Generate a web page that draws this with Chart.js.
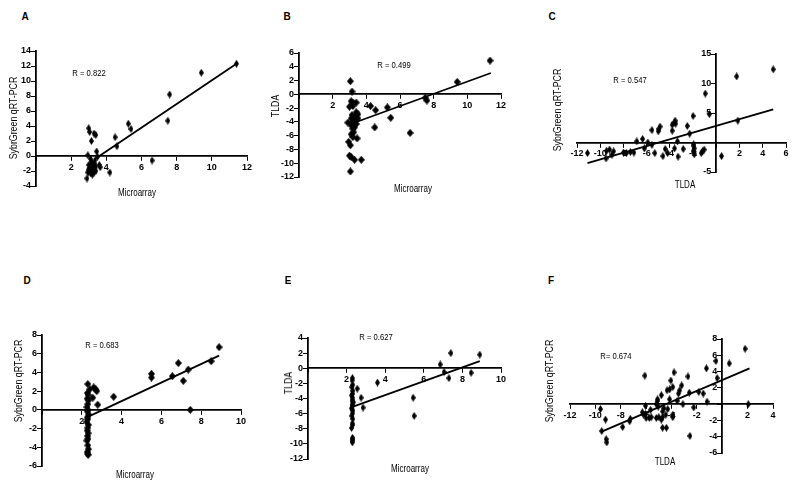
<!DOCTYPE html>
<html><head><meta charset="utf-8">
<script src="https://cdn.jsdelivr.net/npm/chart.js@4"></script>
<style>
body{margin:0;background:#fff;}
#wrap{position:relative;width:800px;height:489px;overflow:hidden;background:#fff;font-family:"Liberation Sans",Arial,sans-serif;color:#000}
canvas{position:absolute}
.t{position:absolute;white-space:nowrap;line-height:1;color:#000}
</style></head><body><div id="wrap"></div>
<script>
// ---------- DATA ----------
// Panel A: Microarray vs SybrGreen qRT-PCR
const aX = [11.4,9.4,7.6,7.5,5.25,5.4,4.5,4.6,6.6,4.2,3.65,3.0,3.05,3.15,3.3,3.4,3.45,2.95,3.5,2.9,3.0,3.1,3.2,3.0,3.3,3.4,3.1,3.2,3.3,3.0,3.15,3.25,3.35,3.05,2.95,3.2,3.4,3.6,3.1];
const aY = [12.3,11.1,8.2,4.7,4.3,3.6,2.5,1.3,-0.6,-2.2,-1.5,3.7,3.2,2.0,3.0,2.8,0.6,0.1,-0.1,-3.0,-1.8,-2.0,-1.5,-1.2,-1.0,-1.4,-2.3,-2.5,-2.2,-2.1,-0.8,-1.8,-0.6,-1.6,-2.2,-1.2,-2.0,-1.2,-0.4];
const aFitX = [3.35, 11.4];
const aFitY = [-0.4, 12.3];
// Panel B: Microarray vs TLDA
const bX = [11.35,9.4,7.5,7.6,6.6,5.45,5.25,4.55,4.5,4.25,3.7,3.05,3.15,3.05,3.0,3.1,3.3,2.95,3.05,2.9,3.45,3.1,3.2,3.4,3.0,3.2,3.1,3.3,3.4,3.5,3.2,3.3,3.1,3.2,3.25,3.1,3.2,3.4,3.5,3.3,3.15];
const bY = [4.9,1.8,-0.5,-0.9,-5.6,-3.4,-1.9,-2.3,-4.8,-1.7,-9.5,1.9,0.4,-11.2,-8.9,-9.1,-9.5,-6.9,-7.4,-4.1,-6.4,-1.0,-1.2,-1.2,-1.8,-1.7,-3.5,-3.3,-2.6,-2.9,-4.0,-3.8,-4.5,-5.0,-5.5,-5.8,-6.2,-4.3,-3.5,-4.8,-3.0];
const bFitX = [3.2, 11.4];
const bFitY = [-4.2, 3.1];
// Panel C: TLDA vs SybrGreen qRT-PCR
const cX = [4.9,1.75,1.85,-0.95,-0.6,0.45,-2.0,-2.3,-2.5,-1.95,-1.95,-1.9,-2.0,-1.9,-1.2,-1.05,-1.3,-2.85,-3.35,-3.3,-3.5,-3.65,-3.8,-3.8,-3.55,-3.6,-4.2,-4.4,-4.6,-4.85,-4.95,-5.0,-5.55,-5.3,-5.55,-5.9,-6.35,-6.2,-6.85,-7.1,-7.4,-7.75,-8.0,-8.85,-9.0,-9.2,-9.45,-9.5,-11.1];
const cY = [12.4,11.2,3.7,8.3,4.8,-2.3,4.5,1.5,2.8,-0.3,-0.6,-1.0,-1.5,-2.0,-1.5,-1.2,-1.8,-1.1,0.2,-2.4,3.2,3.3,3.0,2.0,3.7,-1.0,-1.8,-1.1,-2.3,2.7,2.3,1.9,2.1,-1.8,-0.4,0.0,0.6,-1.0,0.2,-1.7,-1.6,-1.8,-1.7,-1.5,-2.1,-1.2,-1.4,-2.7,-1.8];
const cFitX = [-11.1, 4.9];
const cFitY = [-3.5, 5.6];
// Panel D: Microarray vs SybrGreen qRT-PCR
const dX = [8.9,8.5,7.35,6.85,7.1,6.55,7.45,5.5,5.5,3.6,2.8,2.6,2.7,2.75,2.55,2.4,2.3,2.28,2.32,2.27,2.33,2.3,2.26,2.31,2.29,2.34,2.28,2.3,2.25,2.33,2.3,2.27,2.32,2.29,2.31,2.26,2.3,2.33,2.28,2.3,2.32];
const dY = [6.7,5.2,4.3,5.0,3.1,3.6,0.0,3.85,3.45,1.4,0.55,2.4,2.2,2.0,1.3,2.2,2.75,1.8,1.6,1.2,1.0,0.6,0.3,0.0,-0.2,-0.5,-0.8,-1.0,-1.3,-1.6,-1.9,-2.2,-2.5,-2.8,-3.1,-3.3,-3.8,-4.2,-4.5,-4.7,-4.8];
const dFitX = [2.3, 8.9];
const dFitY = [-0.75, 5.8];
// Panel E: Microarray vs TLDA
const eX = [8.9,8.45,7.4,7.3,7.05,6.85,5.45,5.5,3.6,2.55,2.75,2.85,2.3,2.28,2.32,2.27,2.33,2.3,2.26,2.31,2.29,2.34,2.28,2.3,2.25,2.33,2.3,2.27,2.32,2.29,2.31,2.26,2.3,2.33,2.28,2.3,2.32];
const eY = [1.8,-0.6,2.0,-1.3,-0.5,0.5,-3.9,-6.3,-1.9,-2.7,-3.9,-5.2,-1.3,-1.6,-2.2,-2.5,-3.0,-3.4,-3.6,-3.9,-4.2,-4.5,-4.8,-5.0,-5.3,-5.6,-6.0,-6.3,-6.7,-7.3,-7.5,-7.9,-9.2,-9.4,-9.6,-9.8,-4.4];
const eFitX = [2.3, 8.9];
const eFitY = [-5.1, 0.95];
// Panel F: TLDA vs SybrGreen qRT-PCR
const fX = [1.8,0.55,2.05,-0.5,-0.4,-1.25,-1.2,-1.5,-1.85,-2.25,-2.55,-2.7,-2.6,-3.1,-3.2,-3.35,-3.45,-3.55,-3.8,-3.9,-4.05,-4.15,-4.35,-4.15,-4.3,-3.9,-3.9,-4.45,-4.6,-4.7,-4.8,-4.7,-4.4,-4.7,-5.0,-5.05,-4.8,-5.1,-5.2,-5.1,-5.2,-5.65,-5.75,-6.0,-6.05,-6.1,-6.3,-6.05,-5.6,-6.2,-7.25,-7.3,-7.85,-9.2,-9.6,-9.5,-9.15,-9.1];
const fY = [6.8,5.0,0.0,5.3,3.2,4.4,0.3,1.3,1.5,-0.4,-3.9,3.4,1.4,0.0,2.3,1.7,1.3,0.4,3.9,2.1,2.9,1.8,1.7,0.6,-0.6,-1.3,-1.6,-1.3,-0.5,-0.9,-1.9,-1.6,-2.9,-2.9,-1.6,-0.3,1.1,0.4,0.0,0.6,-1.7,-0.7,-1.7,-1.7,-0.2,3.5,-1.0,-1.2,-1.6,-1.3,-1.8,-2.1,-2.8,-1.9,-0.6,-3.3,-4.3,-4.7];
const fFitX = [-9.55, 2.15];
const fFitY = [-3.4, 4.4];

const letters = ['A','B','C','D','E','F'];
const rLabels = ['R = 0.822','R = 0.499','R = 0.547','R = 0.683','R = 0.627','R= 0.674'];
const xTitles = ['Microarray','Microarray','TLDA','Microarray','Microarray','TLDA'];
const yTitles = ['SybrGreen qRT-PCR','TLDA','SybrGreen qRT-PCR','SybrGreen qRT-PCR','TLDA','SybrGreen qRT-PCR'];

// ---------- custom y scale: labels kept clear of an axis drawn at x = 0 ----------
class YCrossScale extends Chart.LinearScale {
  _computeLabelItems(chartArea) {
    const items = super._computeLabelItems(chartArea);
    const shift = (this.options.ticks.padding || 0) + (this.options.grid.tickLength || 0);
    items.forEach(it => {
      if (it.options && Array.isArray(it.options.translation)) it.options.translation[0] -= shift;
    });
    return items;
  }
}
YCrossScale.id = 'ycross';
YCrossScale.defaults = Chart.LinearScale.defaults;
Chart.register(YCrossScale);

// ---------- LAYOUT ----------
const wrap = document.getElementById('wrap');
const FONT = '"Liberation Sans", Arial, sans-serif';

function diamond(w, h) {
  const c = document.createElement('canvas');
  c.width = w; c.height = h;
  const g = c.getContext('2d');
  g.fillStyle = '#000';
  g.beginPath();
  g.moveTo(w/2, 0); g.lineTo(w, h/2); g.lineTo(w/2, h); g.lineTo(0, h/2); g.closePath();
  g.fill();
  return c;
}

function addText(txt, cx, cy, size, bold, sx, rot) {
  const d = document.createElement('div');
  d.className = 't';
  d.textContent = txt;
  d.style.fontSize = size + 'px';
  d.style.fontWeight = bold ? 'bold' : 'normal';
  d.style.left = cx + 'px';
  d.style.top = cy + 'px';
  d.style.transform = 'translate(-50%,-50%)' + (rot ? ' rotate(-90deg)' : '') + ' scaleX(' + sx + ')';
  wrap.appendChild(d);
}

function zip(xs, ys) { return xs.map((x, i) => ({x: x, y: ys[i]})); }

function panel(p) {
  const P = 24;
  const L = Math.round(p.left), T = Math.round(p.top);
  const W = Math.round(p.right - p.left), H = Math.round(p.bottom - p.top);
  const cv = document.createElement('canvas');
  cv.width = W + 2*P; cv.height = H + 2*P;
  cv.style.left = (L - P) + 'px'; cv.style.top = (T - P) + 'px';
  cv.style.width = (W + 2*P) + 'px'; cv.style.height = (H + 2*P) + 'px';
  wrap.appendChild(cv);
  const tickFont = {family: FONT, size: 9, weight: 'bold'};
  new Chart(cv.getContext('2d'), {
    type: 'scatter',
    data: {datasets: [
      {data: zip(p.xs, p.ys), pointStyle: diamond(p.dw, p.dh), pointRadius: 4, showLine: false, borderColor: '#000', backgroundColor: '#000'},
      {data: zip(p.fx, p.fy), showLine: true, pointRadius: 0, borderColor: '#000', borderWidth: 1.8, fill: false}
    ]},
    options: {
      responsive: false, animation: false, devicePixelRatio: 1,
      layout: {padding: P},
      plugins: {legend: {display: false}, tooltip: {enabled: false}},
      scales: {
        x: {type: 'linear', min: p.xmin, max: p.xmax, position: {y: 0},
            ticks: {stepSize: p.xstep, font: tickFont, color: '#000', padding: 2, maxRotation: 0, autoSkip: false,
                    callback: v => v === 0 ? '' : String(v)},
            grid: {drawOnChartArea: false, drawTicks: true, tickLength: 4, color: '#000', lineWidth: 1},
            border: {display: true, color: '#000', width: 1.8}},
        y: {type: 'ycross', min: p.ymin, max: p.ymax, position: {x: 0},
            ticks: {stepSize: p.ystep, font: tickFont, color: '#000', padding: 1, autoSkip: false,
                    callback: v => (v === 0 && p.hideY0) ? '' : String(v)},
            grid: {drawOnChartArea: false, drawTicks: true, tickLength: 4, color: '#000', lineWidth: 1},
            border: {display: true, color: '#000', width: 1.8}}
      }
    }
  });
}

const panels = [
  {left: 36, right: 247, top: 51, bottom: 186, xmin: 0, xmax: 12, ymin: -4, ymax: 14, xstep: 2, ystep: 2, hideY0: false, xs: aX, ys: aY, fx: aFitX, fy: aFitY, dw: 5, dh: 8,
   L: [25, 17], R: [89, 73], XT: [137, 193], YT: [14, 118]},
  {left: 299, right: 501, top: 53, bottom: 177, xmin: 0, xmax: 12, ymin: -12, ymax: 6, xstep: 2, ystep: 2, hideY0: false, xs: bX, ys: bY, fx: bFitX, fy: bFitY, dw: 7, dh: 8,
   L: [287, 17], R: [394, 65], XT: [413, 189], YT: [276, 106]},
  {left: 577, right: 786, top: 54, bottom: 172, xmin: -12, xmax: 6, ymin: -5, ymax: 15, xstep: 2, ystep: 5, hideY0: true, xs: cX, ys: cY, fx: cFitX, fy: cFitY, dw: 5, dh: 8,
   L: [552, 17], R: [630, 80], XT: [685, 185], YT: [558, 110]},
  {left: 42, right: 241, top: 335, bottom: 466, xmin: 0, xmax: 10, ymin: -6, ymax: 8, xstep: 2, ystep: 2, hideY0: false, xs: dX, ys: dY, fx: dFitX, fy: dFitY, dw: 7, dh: 8,
   L: [27, 281], R: [102, 345], XT: [135, 475], YT: [19, 381]},
  {left: 308, right: 501, top: 338, bottom: 459, xmin: 0, xmax: 10, ymin: -12, ymax: 4, xstep: 2, ystep: 2, hideY0: false, xs: eX, ys: eY, fx: eFitX, fy: eFitY, dw: 5, dh: 8,
   L: [288, 281], R: [376, 337], XT: [410, 469], YT: [289, 383]},
  {left: 570, right: 773, top: 339, bottom: 453, xmin: -12, xmax: 4, ymin: -6, ymax: 8, xstep: 2, ystep: 2, hideY0: true, xs: fX, ys: fY, fx: fFitX, fy: fFitY, dw: 5, dh: 8,
   L: [551, 281], R: [616, 356], XT: [665, 462], YT: [550, 381]}
];

panels.forEach((p, i) => {
  panel(p);
  addText(letters[i], p.L[0], p.L[1], 10, true, 1, false);
  addText(rLabels[i], p.R[0], p.R[1], 9, false, 0.85, false);
  addText(xTitles[i], p.XT[0], p.XT[1], 10, false, 0.8, false);
  addText(yTitles[i], p.YT[0], p.YT[1], 10, false, 0.88, true);
});
</script>
</body></html>
